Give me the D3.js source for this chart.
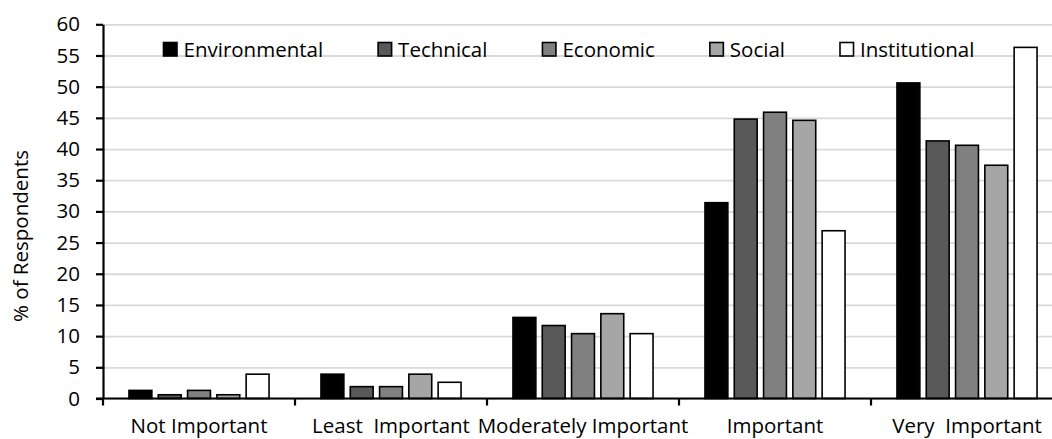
<!DOCTYPE html>
<html>
<head>
<meta charset="utf-8">
<script src="https://cdn.jsdelivr.net/npm/d3@7"></script>
<style>
  html, body { margin: 0; padding: 0; background: #fff; }
  svg { display: block; font-family: 'Open Sans', sans-serif; }
</style>
</head>
<body>
<svg id="chart" width="1052" height="439"></svg>
<script>
// Survey responses: share of respondents per importance level, by criterion group
const categories = ["Not Important", "Least  Important", "Moderately Important", "Important", "Very  Important"];
const seriesNames = ["Environmental", "Technical", "Economic", "Social", "Institutional"];
const environmental = [1.3, 3.9, 13.0, 31.4, 50.6];
const technical     = [0.6, 1.9, 11.7, 44.8, 41.3];
const economic      = [1.3, 1.9, 10.4, 45.9, 40.6];
const social        = [0.6, 3.9, 13.6, 44.6, 37.4];
const institutional = [3.9, 2.6, 10.4, 26.9, 56.3];
const yTicks = [0, 5, 10, 15, 20, 25, 30, 35, 40, 45, 50, 55, 60];
const fills = ["#000000", "#595959", "#808080", "#a6a6a6", "#ffffff"];

const seriesValues = [environmental, technical, economic, social, institutional];
const rows = categories.map((c, i) => {
  const r = { category: c };
  seriesNames.forEach((s, j) => { r[s] = seriesValues[j][i]; });
  return r;
});

const svg = d3.select("#chart");
const plotLeft = 103, plotRight = 1063, plotTop = 24.3, plotBottom = 398.5;
const fontSize = "20.5px";

const x = d3.scaleBand().domain(categories).range([plotLeft, plotRight]).padding(0);
const xs = d3.scaleBand().domain(seriesNames).range([0, x.bandwidth()])
  .paddingInner(0.164).paddingOuter(0.859);
const y = d3.scaleLinear().domain([0, 60]).range([plotBottom, plotTop]);
const color = d3.scaleOrdinal().domain(seriesNames).range(fills);

// horizontal gridlines
svg.append("g")
  .attr("transform", `translate(${plotLeft},0)`)
  .call(d3.axisLeft(y).tickValues(yTicks).tickSize(-(1052 - plotLeft)).tickFormat(""))
  .call(g => g.select(".domain").remove())
  .call(g => g.selectAll(".tick line").attr("stroke", "#d9d9d9").attr("stroke-width", 1.8));

// bars
const sw = 1.6;
svg.append("g").selectAll("g")
  .data(rows)
  .join("g")
  .attr("transform", d => `translate(${x(d.category)},0)`)
  .selectAll("rect")
  .data(d => seriesNames.map(s => ({ key: s, value: d[s] })))
  .join("rect")
  .attr("x", d => xs(d.key) + sw / 2)
  .attr("width", xs.bandwidth() - sw)
  .attr("y", d => y(d.value))
  .attr("height", d => plotBottom - y(d.value))
  .attr("fill", d => color(d.key))
  .attr("stroke", "#000")
  .attr("stroke-width", sw);

// y axis
svg.append("g")
  .attr("transform", `translate(${plotLeft},0)`)
  .call(d3.axisLeft(y).tickValues(yTicks).tickSize(7).tickSizeOuter(0).tickPadding(16))
  .call(g => g.select(".domain").attr("stroke-width", 2.2))
  .call(g => g.selectAll(".tick line").attr("stroke-width", 2.2))
  .call(g => g.selectAll("text").attr("font-size", fontSize).attr("font-family", "'Open Sans', sans-serif").attr("fill", "#000"));

// x axis: baseline, boundary ticks, centred labels
const xAxis = svg.append("g").attr("transform", `translate(0,${plotBottom})`);
xAxis.append("line")
  .attr("x1", plotLeft - 7).attr("x2", 1052)
  .attr("stroke", "#000").attr("stroke-width", 2.2);
xAxis.selectAll("line.bound")
  .data(categories)
  .join("line")
  .attr("class", "bound")
  .attr("x1", d => x(d)).attr("x2", d => x(d))
  .attr("y1", 0).attr("y2", 7)
  .attr("stroke", "#000").attr("stroke-width", 2.2);
xAxis.append("g")
  .call(d3.axisBottom(x).tickSize(0).tickPadding(0))
  .call(g => g.select(".domain").remove())
  .call(g => g.selectAll("text")
    .attr("y", 34.5).attr("dy", null)
    .attr("font-size", fontSize)
    .attr("font-family", "'Open Sans', sans-serif")
    .attr("fill", "#000")
    .style("white-space", "pre"));

// y axis title
svg.append("text")
  .attr("transform", "translate(28,236) rotate(-90)")
  .attr("text-anchor", "middle")
  .attr("font-size", fontSize)
  .attr("fill", "#000")
  .text("% of Respondents");

// legend
const legend = svg.append("g");
let lx = 163.5;
seriesNames.forEach(s => {
  const item = legend.append("g").attr("transform", `translate(${lx},0)`);
  item.append("rect")
    .attr("x", 0).attr("y", 42.5).attr("width", 13.5).attr("height", 13.5)
    .attr("fill", color(s)).attr("stroke", "#000").attr("stroke-width", 1.6);
  const t = item.append("text")
    .attr("x", 20).attr("y", 57)
    .attr("font-size", fontSize)
    .attr("fill", "#000")
    .text(s);
  lx += 20 + t.node().getComputedTextLength() + 55;
});
</script>
</body>
</html>
